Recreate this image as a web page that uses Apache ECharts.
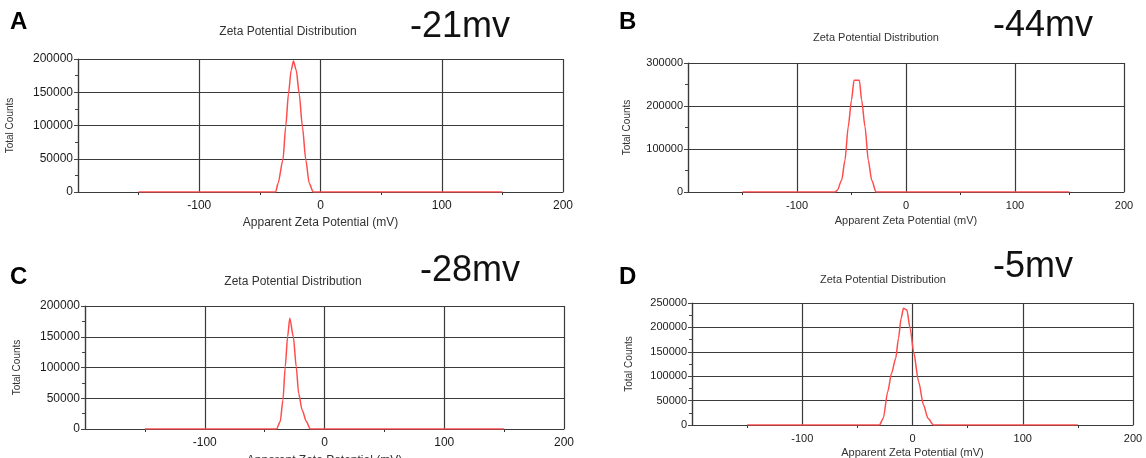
<!DOCTYPE html>
<html>
<head>
<title>zeta-potential</title>
<meta charset="utf-8">
<script type="text/javascript" src="https://cdn.jsdelivr.net/npm/echarts@6/dist/echarts.min.js"></script>
</head>
<body style="margin: 0px; background: #fff">
	<div id="main" style="width: 1146px; height: 458px"></div>
</body>
<script>
	// data (mV, total counts)
	var aMv = [-150, -37, -35, -31, -28.7, -26.4, -24.2, -22.3, -20, -17.6, -14.9, -12.1, -9.3, -6, 150];
	var aCounts = [0, 0, 13000, 48000, 98000, 148000, 183000, 197000, 183000, 148000, 98000, 48000, 13000, 0, 0];

	var bMv = [-150, -65, -63, -59, -56, -53, -50, -47.7, -42.8, -40.7, -37.6, -34.6, -31.5, -27.5, 150];
	var bCounts = [0, 0, 4000, 28000, 74000, 152000, 214000, 260000, 260000, 214000, 152000, 74000, 28000, 0, 0];

	var cMv = [-150, -40, -37, -34.7, -32.8, -30.8, -29, -26, -23.6, -21.6, -18.7, -15.1, -12, 150];
	var cCounts = [0, 0, 12000, 47000, 101000, 150000, 180000, 150000, 101000, 58000, 31000, 12000, 0, 0];

	var dMv = [-150, -30, -26.5, -22.5, -19, -15.2, -12.7, -10.3, -8.2, -5.2, -2.1, 1, 5.5, 10, 14, 19, 150];
	var dCounts = [0, 0, 14000, 68000, 106000, 137000, 178000, 219000, 239000, 236000, 198000, 150000, 89000, 41000, 14000, 0, 0];

	var panelLetters = ['A', 'B', 'C', 'D'];
	var panelMv = ['-21mv', '-44mv', '-28mv', '-5mv'];
	var yMaxes = [200000, 300000, 200000, 250000];
	var yIntervals = [50000, 100000, 50000, 50000];
	var xMin = -200, xMax = 200, xInterval = 100;

	var chartDom = document.getElementById('main');
	var myChart = echarts.init(chartDom);
	var FONT = '"Liberation Sans", Arial, sans-serif';

	// panel placement
	var grids = [
		{ left: 78, top: 59, width: 485, height: 133, outerBoundsMode: 'none' },
		{ left: 688, top: 63, width: 436, height: 129, outerBoundsMode: 'none' },
		{ left: 85, top: 306, width: 479, height: 123, outerBoundsMode: 'none' },
		{ left: 692, top: 303, width: 441, height: 122, outerBoundsMode: 'none' }
	];
	var fs = [12, 11, 12, 11];
	var xNameGap = [25, 23, 26, 22];
	var yNameGap = [63, 56, 63, 58];
	var titlePos = [[288, 32], [876, 38], [293, 282], [883, 280]];
	var mvPos = [[410, 27], [993, 26], [420, 271], [993, 267]];
	var letterPos = [[10, 22], [619, 22], [10, 277], [619, 277]];

	var series = [[aMv, aCounts], [bMv, bCounts], [cMv, cCounts], [dMv, dCounts]];

	var xAxes = [], yAxes = [], seriesList = [], graphics = [];
	var gridLine = { color: '#3a3a3a', width: 1.2 };

	for (let i = 0; i < 4; i++) {
		xAxes.push({
			gridIndex: i,
			type: 'value',
			min: xMin, max: xMax, interval: xInterval,
			name: 'Apparent Zeta Potential (mV)',
			nameLocation: 'middle',
			nameGap: xNameGap[i],
			nameTextStyle: { color: '#333', fontSize: fs[i], fontFamily: FONT },
			axisLine: { lineStyle: gridLine },
			axisTick: { show: false },
			minorTick: { show: true, splitNumber: 2, length: 3, lineStyle: { color: '#333' } },
			axisLabel: {
				color: '#1a1a1a', fontSize: fs[i], fontFamily: FONT, margin: 8,
				formatter: function (v) { return v === xMin ? '' : String(v); }
			},
			splitLine: { show: true, lineStyle: gridLine }
		});
		yAxes.push({
			gridIndex: i,
			type: 'value',
			min: 0, max: yMaxes[i], interval: yIntervals[i],
			name: 'Total Counts',
			nameLocation: 'middle',
			nameGap: yNameGap[i],
			nameTextStyle: { color: '#333', fontSize: 10, fontFamily: FONT },
			axisLine: { show: true, onZero: false, lineStyle: gridLine },
			axisTick: { show: true, length: 4, lineStyle: { color: '#444' } },
			minorTick: { show: true, splitNumber: 2, length: 3, lineStyle: { color: '#444' } },
			axisLabel: {
				color: '#1a1a1a', fontSize: fs[i], fontFamily: FONT, margin: 5,
				formatter: function (v) { return String(v); }
			},
			splitLine: { show: true, lineStyle: gridLine }
		});
		var pts = [];
		for (let k = 0; k < series[i][0].length; k++) {
			pts.push([series[i][0][k], series[i][1][k]]);
		}
		seriesList.push({
			type: 'line',
			xAxisIndex: i,
			yAxisIndex: i,
			data: pts,
			showSymbol: false,
			smooth: 0.25,
			smoothMonotone: 'x',
			lineStyle: { color: '#ff4d4d', width: 1.5 },
			z: 5
		});
		graphics.push({
			type: 'text', x: titlePos[i][0], y: titlePos[i][1],
			style: { text: 'Zeta Potential Distribution', fill: '#333', font: fs[i] + 'px ' + FONT,
				textAlign: 'center', textVerticalAlign: 'middle', align: 'center', verticalAlign: 'middle' }
		});
		graphics.push({
			type: 'text', x: mvPos[i][0], y: mvPos[i][1],
			style: { text: panelMv[i], fill: '#111', font: '36px ' + FONT,
				textAlign: 'left', textVerticalAlign: 'middle', align: 'left', verticalAlign: 'middle' }
		});
		graphics.push({
			type: 'text', x: letterPos[i][0], y: letterPos[i][1],
			style: { text: panelLetters[i], fill: '#000', font: 'bold 24px ' + FONT,
				textAlign: 'left', textVerticalAlign: 'middle', align: 'left', verticalAlign: 'middle' }
		});
	}

	var option = {
		animation: false,
		backgroundColor: '#fff',
		grid: grids,
		xAxis: xAxes,
		yAxis: yAxes,
		series: seriesList,
		graphic: graphics
	};
	myChart.setOption(option);
</script>
</html>
